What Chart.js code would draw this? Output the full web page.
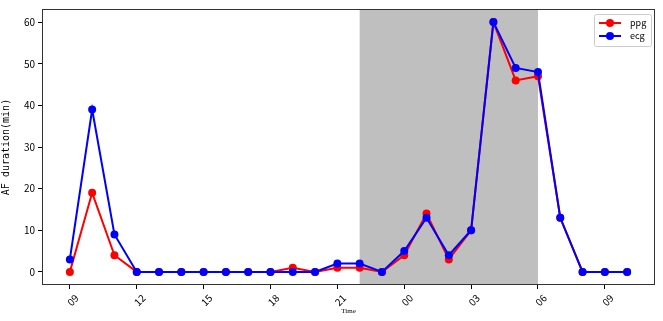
<!DOCTYPE html>
<html>
<head>
<meta charset="utf-8">
<script src="https://cdn.jsdelivr.net/npm/chart.js@4/dist/chart.umd.min.js"></script>
<style>
  body { margin: 0; background: #fff; }
  #wrap { width: 663px; height: 321px; }
</style>
</head>
<body>
<div id="wrap"><canvas id="myChart"></canvas></div>
<script>
// hourly from 09:00 to 10:00 next day
const hours = [9, 10, 11, 12, 13, 14, 15, 16, 17, 18, 19, 20, 21, 22, 23, 0, 1, 2, 3, 4, 5, 6, 7, 8, 9, 10];
const ppg = [0, 19, 4, 0, 0, 0, 0, 0, 0, 0, 1, 0, 1, 1, 0, 4, 14, 3, 10, 60, 46, 47, 13, 0, 0, 0];
const ecg = [3, 39, 9, 0, 0, 0, 0, 0, 0, 0, 0, 0, 2, 2, 0, 5, 13, 4, 10, 60, 49, 48, 13, 0, 0, 0];
const xTicks = [0, 3, 6, 9, 12, 15, 18, 21, 24];
const yTicks = [0, 10, 20, 30, 40, 50, 60];
// night span 22:00 -> 06:00 (index in hours)
const nightStart = 13;
const nightEnd = 21;

const tickFont = { family: "'Noto Sans CJK SC', 'DejaVu Sans', sans-serif", size: 10 };

function pts(vals) {
    return vals.map(function (v, i) { return { x: i, y: v }; });
}

// gray night band, frame and legend
const extras = {
    id: 'extras',
    beforeDatasetsDraw(chart) {
        const { ctx, chartArea, scales } = chart;
        const x0 = scales.x.getPixelForValue(nightStart);
        const x1 = scales.x.getPixelForValue(nightEnd);
        ctx.save();
        ctx.fillStyle = '#bfbfbf';
        ctx.fillRect(x0, chartArea.top, x1 - x0, chartArea.bottom - chartArea.top);
        ctx.restore();
    },
    afterDraw(chart) {
        const { ctx, chartArea } = chart;
        ctx.save();
        ctx.strokeStyle = '#333';
        ctx.lineWidth = 1;
        ctx.strokeRect(chartArea.left + 0.5, chartArea.top + 0.5,
            chartArea.right - chartArea.left - 1, chartArea.bottom - chartArea.top - 1);

        // legend
        const bx = chartArea.right - 61, by = chartArea.top + 5;
        ctx.fillStyle = 'rgba(255,255,255,0.85)';
        ctx.strokeStyle = '#ccc';
        ctx.beginPath();
        ctx.roundRect(bx + 0.5, by + 0.5, 57, 32, 2);
        ctx.fill();
        ctx.stroke();
        const items = [['ppg', 'red'], ['ecg', 'blue']];
        items.forEach(function (it, i) {
            const y = by + 9 + i * 13;
            ctx.strokeStyle = it[1];
            ctx.fillStyle = it[1];
            ctx.lineWidth = 2;
            ctx.beginPath();
            ctx.moveTo(bx + 5, y);
            ctx.lineTo(bx + 27, y);
            ctx.stroke();
            ctx.beginPath();
            ctx.arc(bx + 16, y, 4, 0, Math.PI * 2);
            ctx.fill();
            ctx.fillStyle = '#000';
            ctx.font = "9px 'Noto Sans CJK SC', 'DejaVu Sans', sans-serif";
            ctx.textBaseline = 'middle';
            ctx.fillText(it[0], bx + 36, y);
        });

        // x title
        ctx.fillStyle = '#000';
        ctx.font = "7px 'Liberation Serif', serif";
        ctx.textAlign = 'center';
        ctx.textBaseline = 'middle';
        ctx.fillText('Time', (chartArea.left + chartArea.right) / 2, 311);
        ctx.restore();
    }
};

new Chart('myChart', {
    type: 'line',
    data: {
        datasets: [{
            label: 'ppg',
            data: pts(ppg),
            order: 2,
            borderColor: 'red',
            backgroundColor: 'red',
            borderWidth: 2,
            pointRadius: 4,
            pointHoverRadius: 4,
            pointBorderWidth: 0
        }, {
            label: 'ecg',
            data: pts(ecg),
            order: 1,
            borderColor: 'blue',
            backgroundColor: 'blue',
            borderWidth: 2,
            pointRadius: 4,
            pointHoverRadius: 4,
            pointBorderWidth: 0
        }]
    },
    options: {
        responsive: true,
        maintainAspectRatio: false,
        animation: false,
        layout: { padding: { top: 5, right: 8, left: 0, bottom: 0 } },
        plugins: { legend: { display: false }, tooltip: { enabled: false } },
        scales: {
            x: {
                type: 'linear',
                min: -1.25,
                max: 26.25,
                afterBuildTicks: function (axis) {
                    axis.ticks = xTicks.map(function (v) { return { value: v }; });
                },
                afterFit: function (axis) { axis.height = 36; },
                grid: { drawOnChartArea: false, drawTicks: true, tickLength: 4, color: '#000' },
                border: { display: false },
                ticks: {
                    color: '#000',
                    font: tickFont,
                    minRotation: 45,
                    maxRotation: 45,
                    padding: 3,
                    labelOffset: 7,
                    callback: function (v) {
                        const h = hours[v];
                        return (h < 10 ? '0' : '') + h;
                    }
                }
            },
            y: {
                min: -3.15,
                max: 63.15,
                afterBuildTicks: function (axis) {
                    axis.ticks = yTicks.map(function (v) { return { value: v }; });
                },
                afterFit: function (axis) { axis.width = 42; },
                grid: { drawOnChartArea: false, drawTicks: true, tickLength: 4, color: '#000' },
                border: { display: false },
                title: {
                    display: true,
                    text: 'AF duration(min)',
                    color: '#000',
                    font: { family: "'DejaVu Sans Mono', monospace", size: 10 },
                    padding: { top: 0, bottom: 2 }
                },
                ticks: { color: '#000', font: tickFont, padding: 3 }
            }
        }
    },
    plugins: [extras]
});
</script>
</body>
</html>
